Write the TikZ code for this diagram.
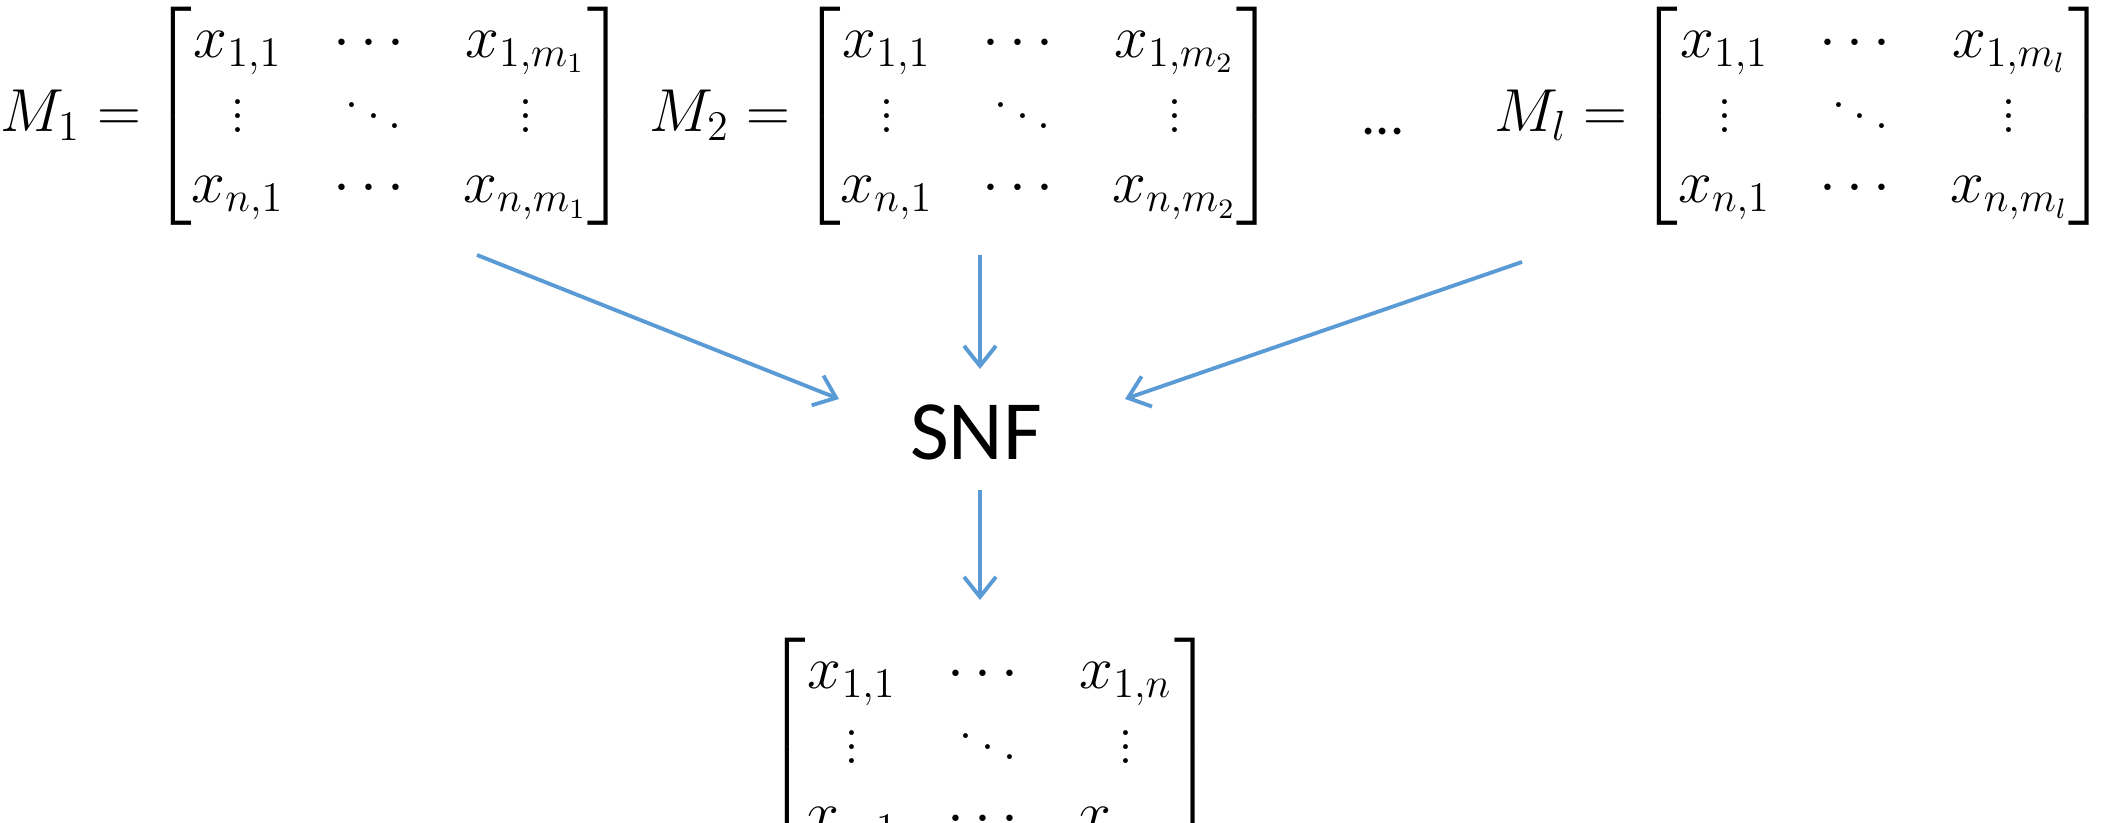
\documentclass[tikz,border=0pt]{standalone}
\usepackage{amsmath}
\usepackage[no-math]{fontspec}
\newfontfamily\calibri{Carlito}
\usetikzlibrary{arrows.meta,positioning}
\definecolor{flowblue}{RGB}{91,155,213}

\begin{document}
\begin{tikzpicture}[
    matbox/.style={inner sep=0pt, font=\fontsize{17}{20}\selectfont},
    snfbox/.style={inner sep=0pt, font=\calibri\fontsize{24}{29}\selectfont},
    flow/.style={draw=flowblue, line width=1.1pt, -{Straight Barb[length=2mm, width=3.2mm]}}
]
\useasboundingbox (0,0) rectangle (21.06,8.23);
\setlength{\arraycolsep}{7pt}

% Input matrices
\node[matbox, anchor=east] (m1) at (6.29,7.07) {$M_1 =\mkern-2mu \begin{bmatrix} x_{1,1} & \cdots & x_{1,m_1} \\ \vdots & \ddots & \vdots \\ x_{n,1} & \cdots & x_{n,m_1} \end{bmatrix}$};
\node[matbox, anchor=east] (m2) at (12.78,7.07) {$M_2 =\mkern-2mu \begin{bmatrix} x_{1,1} & \cdots & x_{1,m_2} \\ \vdots & \ddots & \vdots \\ x_{n,1} & \cdots & x_{n,m_2} \end{bmatrix}$};
\node[matbox, anchor=east] (ml) at (21.10,7.07) {$M_l =\mkern-2mu \begin{bmatrix} x_{1,1} & \cdots & x_{1,m_l} \\ \vdots & \ddots & \vdots \\ x_{n,1} & \cdots & x_{n,m_l} \end{bmatrix}$};
\node[snfbox, font=\calibri\fontsize{16}{19}\selectfont] (dots) at (13.83,6.91) {...};

% SNF
\node[snfbox] (snf) at (9.76,3.91) {SNF};

% Output matrix
\node[matbox] (out) at (9.90,0.76) {$\begin{bmatrix} x_{1,1} & \cdots & x_{1,n} \\ \vdots & \ddots & \vdots \\ x_{n,1} & \cdots & x_{n,n} \end{bmatrix}$};

% Arrow ends
\coordinate (s1) at (4.77,5.68);
\coordinate (s2) at (9.80,5.68);
\coordinate (s3) at (15.22,5.61);
\coordinate (e1) at (8.39,4.24);
\coordinate (e2) at (9.80,4.54);
\coordinate (e3) at (11.25,4.24);
\coordinate (s4) at (9.80,3.33);
\coordinate (e4) at (9.80,2.23);

% Arrows
\draw[flow] (s1) -- (e1);
\draw[flow] (s2) -- (e2);
\draw[flow] (s3) -- (e3);
\draw[flow] (s4) -- (e4);

\end{tikzpicture}
\end{document}
